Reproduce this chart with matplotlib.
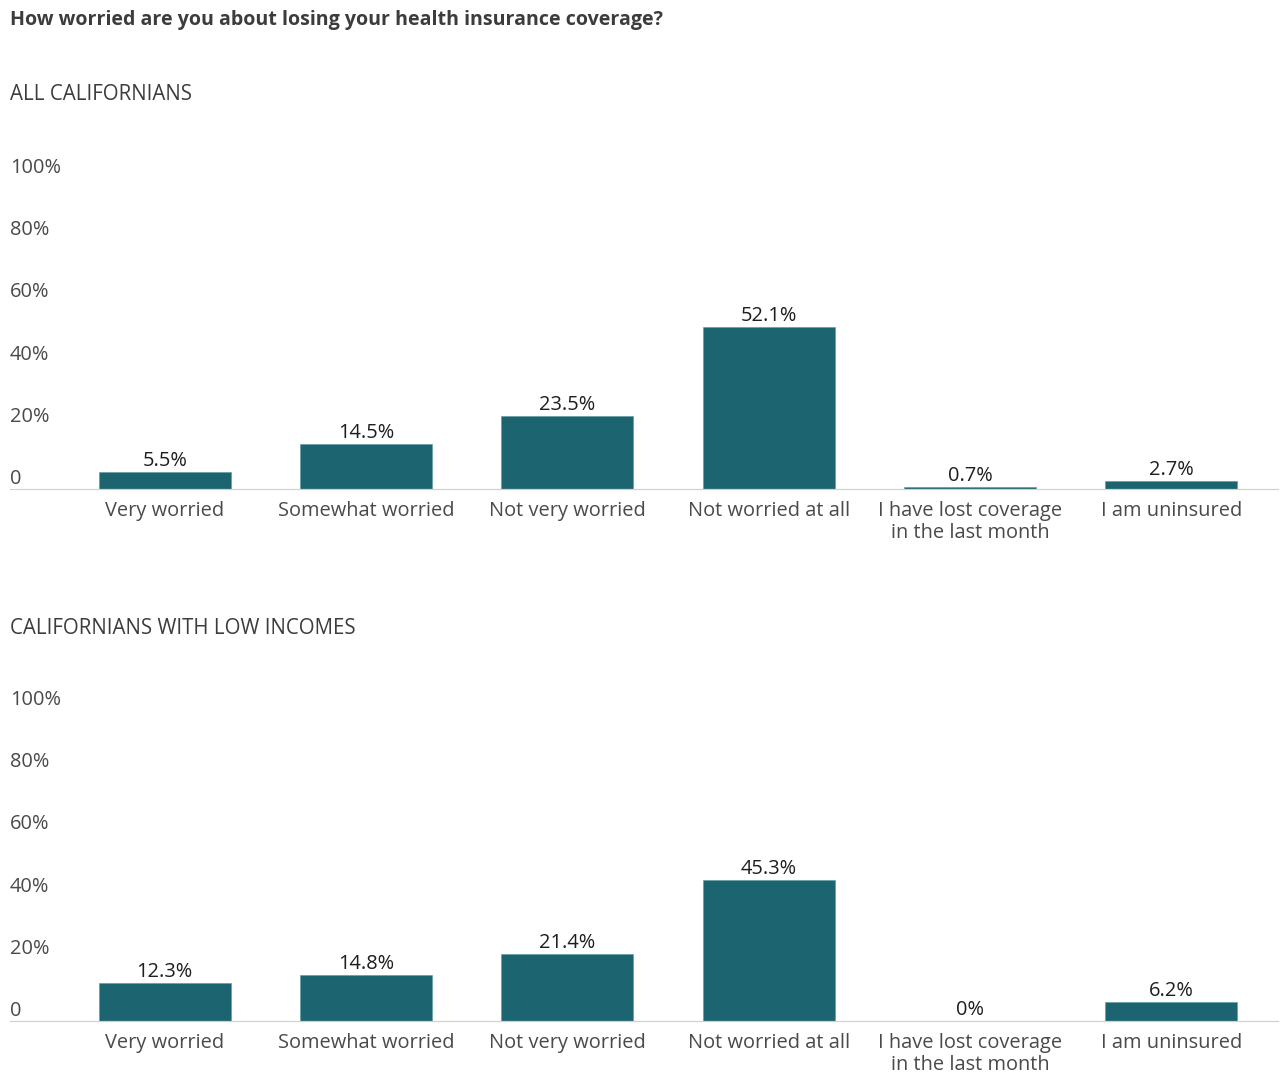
import matplotlib.pyplot as plt
from matplotlib.transforms import blended_transform_factory

# survey answers, share of respondents (%)
categories = ['Very worried', 'Somewhat worried', 'Not very worried',
              'Not worried at all', 'I have lost coverage\nin the last month',
              'I am uninsured']
all_ca = [5.5, 14.5, 23.5, 52.1, 0.7, 2.7]
all_ca_labels = ['5.5%', '14.5%', '23.5%', '52.1%', '0.7%', '2.7%']
low_income = [12.3, 14.8, 21.4, 45.3, 0.0, 6.2]
low_income_labels = ['12.3%', '14.8%', '21.4%', '45.3%', '0%', '6.2%']
yticks = [0, 20, 40, 60, 80, 100]
ytick_labels = ['0', '20%', '40%', '60%', '80%', '100%']

W, H = 1282, 1076
DPI = 72
BAR = '#1c6570'
plt.rcParams['font.family'] = ['Open Sans', 'DejaVu Sans']

fig = plt.figure(figsize=(W / DPI, H / DPI), dpi=DPI)
fig.patch.set_facecolor('white')


def fx(px):
    return px / W


def fy(py):
    return 1 - py / H


fig.text(fx(10), fy(20), 'How worried are you about losing your health insurance coverage?',
         fontsize=19.6, fontweight='bold', color='#3c3c3c', va='center', ha='left')


def panel(base_px, title, title_px, vals, labels):
    top_px = base_px - 311
    ax = fig.add_axes([fx(64), fy(base_px), fx(1272) - fx(64), (base_px - top_px) / H])
    ax.set_xlim(-0.5, 5.5)
    ax.set_ylim(0, 100)
    ax.axis('off')
    x = range(len(vals))
    ax.bar(x, vals, width=0.655, color=BAR, edgecolor='#5a9aa3', linewidth=0.6)
    for xi, v, lab in zip(x, vals, labels):
        ax.annotate(lab, (xi, v), xytext=(0, 6), textcoords='offset points',
                    ha='center', va='baseline', fontsize=20, color='#1e1e1e')
    for xi, cat in zip(x, categories):
        ax.annotate(cat, (xi, 0), xytext=(0, -12), textcoords='offset points',
                    ha='center', va='top', fontsize=20, color='#4a4a4a',
                    linespacing=1.1)
    tr = blended_transform_factory(fig.transFigure, ax.transData)
    for v, lab in zip(yticks, ytick_labels):
        ax.annotate(lab, (fx(10), v), xycoords=tr, xytext=(0, 5),
                    textcoords='offset points', ha='left', va='baseline',
                    fontsize=20, color='#4a4a4a')
    # baseline rule runs under the tick labels too
    fig.add_artist(plt.Line2D([fx(10), fx(1278)], [fy(base_px), fy(base_px)],
                              color='#d0d0d0', linewidth=1.2))
    fig.text(fx(10), fy(title_px), title, fontsize=20.5, color='#3c3c3c',
             va='center', ha='left')
    return ax


panel(489, 'ALL CALIFORNIANS', 95, all_ca, all_ca_labels)
panel(1021, 'CALIFORNIANS WITH LOW INCOMES', 628, low_income, low_income_labels)

fig.savefig('out.png', dpi=DPI, facecolor='white')
